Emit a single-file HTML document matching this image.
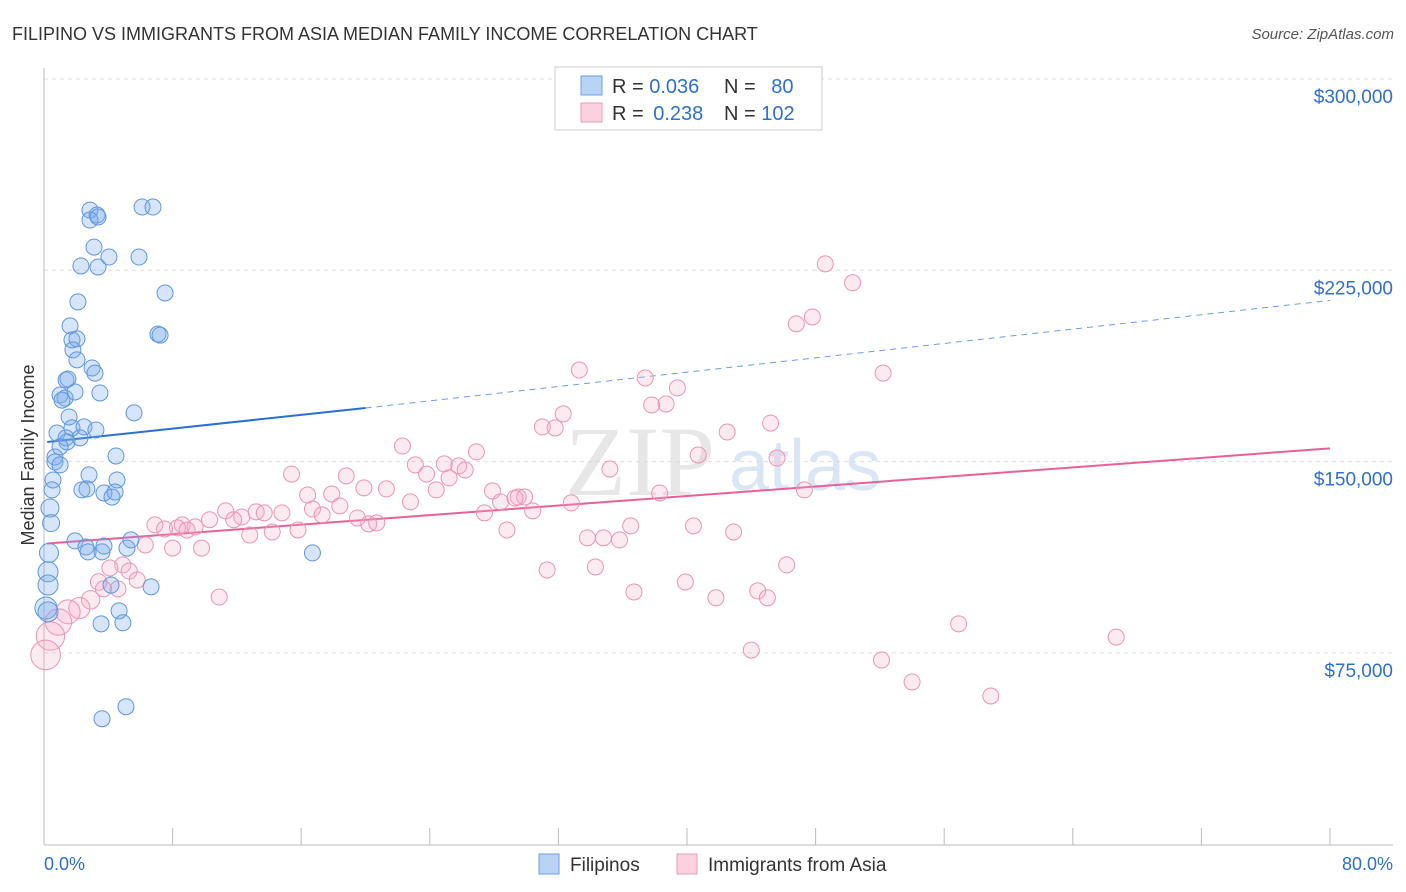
<!DOCTYPE html>
<html><head><meta charset="utf-8"><style>
body{margin:0;background:#fff;font-family:"Liberation Sans",sans-serif}
#wrap{position:relative;width:1406px;height:892px;overflow:hidden}
</style></head><body>
<div id="wrap">
<svg id="svg" width="1406" height="892" xmlns="http://www.w3.org/2000/svg">
<text x="12" y="40" font-size="18" fill="#333">FILIPINO VS IMMIGRANTS FROM ASIA MEDIAN FAMILY INCOME CORRELATION CHART</text>
<text x="1394" y="39" font-size="15" fill="#555" text-anchor="end" font-style="italic">Source: ZipAtlas.com</text>
<text x="34" y="455" font-size="18" fill="#333" text-anchor="middle" transform="rotate(-90 34 455)">Median Family Income</text>
<text x="640" y="495" font-size="100" fill="#d8d8d8" font-family="Liberation Serif,serif" text-anchor="middle" opacity="0.6">ZIP</text>
<text x="805" y="490" font-size="72" fill="#c4d6ee" text-anchor="middle" opacity="0.6">atlas</text>
<g id="grid"></g><g id="axes"></g><g id="lines"></g><g id="pts"></g>
<g>
<rect x="555" y="67" width="267" height="63" fill="#fff" stroke="#ccc"/>
<rect x="581" y="76" width="21" height="19" fill="#b9d3f5" stroke="#6d9de0"/>
<rect x="581" y="103" width="21" height="19" fill="#fcd1df" stroke="#ea9ab5"/>
<text x="612" y="93" font-size="20" fill="#333">R = <tspan fill="#2f6fd0">0.036</tspan></text>
<text x="724" y="93" font-size="20" fill="#333">N = <tspan fill="#2f6fd0" dx="10">80</tspan></text>
<text x="612" y="120" font-size="20" fill="#333">R = <tspan fill="#2f6fd0" dx="4">0.238</tspan></text>
<text x="724" y="120" font-size="20" fill="#333">N = <tspan fill="#2f6fd0">102</tspan></text>
</g>
<g>
<rect x="539" y="854" width="20" height="20" fill="#b9d3f5" stroke="#6d9de0"/>
<text x="570" y="871" font-size="19" fill="#333">Filipinos</text>
<rect x="677" y="854" width="20" height="20" fill="#fcd1df" stroke="#ea9ab5"/>
<text x="708" y="871" font-size="19" fill="#333">Immigrants from Asia</text>
</g>
<text x="44" y="870" font-size="18" fill="#2f6fd0">0.0%</text>
<text x="1393" y="870" font-size="18" fill="#2f6fd0" text-anchor="end">80.0%</text>
</svg>
</div>
<script>
const yTicks=[75,150,225,300];
const yTickLabels=["$75,000","$150,000","$225,000","$300,000"];
const xTicks=[0,8,16,24,32,40,48,56,64,72,80];
const bluePct=[2.86,3.30,2.86,3.36,6.10,6.78,3.11,2.30,3.36,4.04,5.91,2.11,7.53,1.62,7.09,7.22,1.74,2.05,1.80,2.05,2.99,3.17,1.37,1.49,3.48,1.00,1.31,1.93,1.12,5.60,1.56,1.74,2.49,3.23,0.81,1.37,2.24,1.43,1.00,0.68,0.68,1.00,2.80,4.48,4.54,0.56,0.50,2.36,2.67,3.73,4.42,4.23,0.37,0.44,1.93,2.61,2.74,3.61,3.73,5.16,5.41,16.7,0.31,0.25,0.25,4.17,6.66,0.12,0.25,4.67,3.55,4.91,3.61,5.10];
const blueInc=[248.6,246.7,244.7,245.9,249.8,249.8,234.1,226.7,226.3,230.2,230.2,212.6,216.1,203.2,200.0,199.6,197.7,198.1,193.8,189.9,186.7,184.7,182.0,182.4,176.9,176.1,174.9,177.3,174.1,169.1,167.5,163.2,163.6,162.4,161.2,159.3,159.3,157.7,155.8,151.8,149.9,148.7,144.8,152.2,142.8,142.8,138.9,138.9,139.3,137.7,138.1,136.1,131.8,125.9,118.9,116.5,114.6,114.6,116.9,116.1,119.3,114.2,114.2,106.8,101.6,101.6,100.9,92.6,91.1,91.5,86.4,86.8,49.2,53.9];
const pinkPct=[48.6,50.3,47.8,46.8,52.2,33.3,37.4,39.4,38.7,37.8,32.3,31.0,31.8,45.2,42.5,22.3,40.7,45.6,26.9,23.1,24.9,25.8,26.2,35.2,23.8,25.2,15.4,18.8,24.4,27.9,21.3,16.4,17.9,19.9,29.5,29.9,28.4,29.3,32.8,38.3,47.3,22.8,18.4,16.7,17.3,27.4,30.4,11.3,13.2,13.7,14.8,12.3,10.3,11.8,8.6,6.9,8.3,7.5,9.4,8.9,14.2,15.8,19.5,20.2,20.7,12.8,36.5,40.4,42.9,28.8,33.8,34.8,35.8,6.3,8.0,9.8,4.9,4.1,5.3,31.3,34.3,46.2,39.9,5.8,3.4,3.7,4.6,36.7,41.8,44.4,45.0,2.9,10.9,2.2,1.5,0.9,56.9,66.7,0.4,0.1,44.0,52.1,54.0,58.9];
const pinkInc=[227.5,220.1,206.7,204.0,184.7,185.9,182.8,178.9,172.6,172.2,168.7,163.6,163.2,165.1,161.6,156.1,152.6,151.4,153.8,148.7,149.1,148.3,146.7,147.1,145.1,143.6,145.1,144.4,138.9,138.5,139.3,136.9,137.3,139.7,136.1,136.1,134.2,135.7,133.8,137.7,138.9,134.2,132.6,131.4,129.1,129.9,130.7,130.7,130.3,129.9,129.9,128.3,127.2,127.2,125.2,125.2,124.0,123.6,124.4,123.2,122.4,123.2,127.9,125.6,126.0,121.2,124.8,124.8,122.4,123.2,120.1,120.1,119.3,117.3,116.1,116.1,109.5,108.3,107.1,107.5,108.7,109.5,102.8,103.6,102.8,100.1,100.1,98.9,96.6,99.3,96.6,95.8,96.9,92.6,91.1,87.1,86.4,81.2,81.6,74.2,76.1,72.2,63.6,58.1];
const blueTrend=[0.2,157.7,20,171.0,80,213.2];
const pinkTrend=[0.2,117.9,80,155.2];

const X=p=>44+p/80*1286;
const Y=v=>79+(300-v)/75*191.3;
const NS="http://www.w3.org/2000/svg";
function mk(tag,attrs,parent){const e=document.createElementNS(NS,tag);for(const k in attrs)e.setAttribute(k,attrs[k]);document.getElementById(parent).appendChild(e);return e;}
yTicks.forEach((t,i)=>{
  const g=mk('line',{x1:44,x2:1393,y1:Y(t),y2:Y(t),stroke:'#ddd','stroke-dasharray':'4,4'},'grid');
  
  
  const tx=mk('text',{x:1393,y:Y(t)+24,'font-size':19,fill:'#2f6fd0','text-anchor':'end'},'grid');
  tx.textContent=yTickLabels[i];
  
  
});
const ax=mk('line',{x1:44,x2:44,y1:68,y2:845,stroke:'#bbb'},'axes');


const bx=mk('line',{x1:44,x2:1393,y1:845,y2:845,stroke:'#bbb'},'axes');


xTicks.forEach(t=>{
  const l=mk('line',{x1:X(t),x2:X(t),y1:828,y2:845,stroke:'#bbb'},'axes');
  
  
});
let l1=mk('line',{x1:X(blueTrend[0]),y1:Y(blueTrend[1]),x2:X(blueTrend[2]),y2:Y(blueTrend[3]),stroke:'#2a6fd6','stroke-width':2},'lines');


let l2=mk('line',{x1:X(blueTrend[2]),y1:Y(blueTrend[3]),x2:X(blueTrend[4]),y2:Y(blueTrend[5]),stroke:'#6d9de0','stroke-width':1,'stroke-dasharray':'6,5'},'lines');


let l3=mk('line',{x1:X(pinkTrend[0]),y1:Y(pinkTrend[1]),x2:X(pinkTrend[2]),y2:Y(pinkTrend[3]),stroke:'#e8609a','stroke-width':2},'lines');


pinkPct.forEach((p,i)=>{
  const r=p<3.5?8+(3.5-p)*2:8;
  const c=mk('circle',{cx:X(p),cy:Y(pinkInc[i]),r:r,fill:'rgba(245,170,200,0.25)',stroke:'#eb94b2','stroke-width':1},'pts');
  
  
});
bluePct.forEach((p,i)=>{
  const r=p<0.5?8+(0.5-p)*8:8;
  const c=mk('circle',{cx:X(p),cy:Y(blueInc[i]),r:r,fill:'rgba(120,170,235,0.3)',stroke:'#6096dc','stroke-width':1},'pts');
  
  
});
</script>
</body></html>
